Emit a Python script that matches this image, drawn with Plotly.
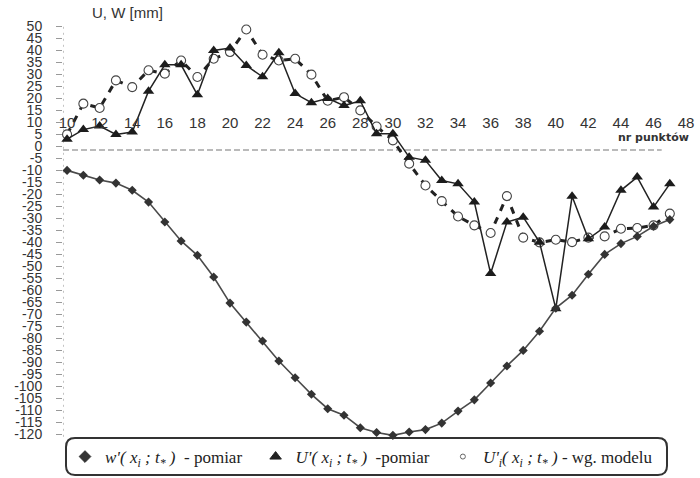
import plotly.graph_objects as go

# ---- data ----
points = list(range(10, 48))
w_measured = [-10, -12, -14, -15.3, -18.3, -23.2, -31.5, -39.4, -45.4, -54.4,
              -65.3, -73.2, -81.1, -89.4, -96.4, -103.3, -109.3, -112, -117.2, -119.2,
              -120.4, -119, -118, -115.3, -110.3, -105.6, -98.6, -91.5, -85, -77,
              -67.4, -62, -53.3, -45, -40.5, -37.5, -33.3, -30.5]
u_measured = [3, 7, 8.5, 5, 6, 23, 34, 34, 21.5, 40,
              41, 33.7, 29, 39, 22, 18.2, 20, 17, 19, 5.3,
              5.3, -4.5, -5.8, -14.2, -15.6, -23.2, -53, -31.5, -29.5, -39.9,
              -67.6, -20.8, -38.5, -33.6, -18.3, -12.8, -25.3, -15.6]
u_model = [5, 17.8, 16, 27.5, 24.7, 31.7, 30.3, 35.8, 28.9, 36.5,
           39.3, 48.7, 38.2, 35.8, 36.5, 29.9, 19, 20.5, 15, 8.3,
           2.5, -7.2, -16.3, -22.8, -29.2, -32.9, -36.1, -20.7, -38, -40,
           -38.9, -39.9, -38, -37.5, -34.3, -34, -32.9, -28]
x_ticks = list(range(10, 49, 2))
y_ticks = list(range(-120, 51, 5))

legend_names = ["<i>w'( x<sub>i</sub> ; t<sub>*</sub> )</i>  - pomiar&nbsp;&nbsp;",
                "<i>U'( x<sub>i</sub> ; t<sub>*</sub> )</i>  -pomiar&nbsp;&nbsp;",
                "<i>U'<sub>i</sub>( x<sub>i</sub> ; t<sub>*</sub> )</i> - wg. modelu"]

# ---- geometry ----
W, H = 700, 478
ML, MR, MT, MB = 63, 9, 22, 40
XR = [9.75, 48.3]
YR = [-121.5, 51.83]
AXIS_Y = -1.5
PW, PH = W - ML - MR, H - MT - MB


def px2paper(px, py):
    return (px - ML) / PW, (H - MB - py) / PH


fig = go.Figure()

# model (dashed, open circles)
fig.add_trace(go.Scatter(
    x=points, y=u_model, mode="lines+markers", showlegend=False,
    line=dict(color="#222", width=3, dash="7px,7px"),
    marker=dict(symbol="circle", size=9, color="white",
                line=dict(color="#444", width=1.1)),
    cliponaxis=False))
# U measured (triangles)
fig.add_trace(go.Scatter(
    x=points, y=u_measured, mode="lines+markers", showlegend=False,
    line=dict(color="#222", width=1.5),
    marker=dict(symbol="triangle-up", size=10, color="#1c1c1c"),
    cliponaxis=False))
# w measured (diamonds)
fig.add_trace(go.Scatter(
    x=points, y=w_measured, mode="lines+markers", showlegend=False,
    line=dict(color="#4a4a4a", width=1.6),
    marker=dict(symbol="diamond", size=7, color="#333"),
    cliponaxis=False))

# legend-only entries (markers only, like the reference)
for name, sym, size, col, fill in [
        (legend_names[0], "diamond", 9, "#333", "#333"),
        (legend_names[1], "triangle-up", 10, "#222", "#222"),
        (legend_names[2], "circle-open", 5, "#666", "#666")]:
    fig.add_trace(go.Scatter(x=[None], y=[None], mode="markers", name=name,
                             marker=dict(symbol=sym, size=size, color=fill,
                                         line=dict(color=col, width=1))))

# axis arrows
fig.add_trace(go.Scatter(x=[XR[0]], y=[52.7], mode="markers", showlegend=False,
                         marker=dict(symbol="triangle-up", size=17, color="#1a1a1a"),
                         cliponaxis=False, hoverinfo="skip"))
fig.add_trace(go.Scatter(x=[48.55], y=[-2.5], mode="markers", showlegend=False,
                         marker=dict(symbol="triangle-right", size=13, color="#1a1a1a"),
                         cliponaxis=False, hoverinfo="skip"))

shapes = [
    dict(type="line", xref="x", yref="y", x0=XR[0], x1=46.5, y0=AXIS_Y, y1=AXIS_Y,
         line=dict(color="#777", width=1.2, dash="6px,3px"), layer="below"),
    dict(type="line", xref="x", yref="y", x0=XR[0], x1=XR[0], y0=-121, y1=50,
         line=dict(color="#888", width=1, dash="2px,4px"), layer="below"),
]

# rounded legend box
bx0, by0, bx1, by1, r = 66, 438, 667, 475, 9
p = lambda a, b: "%.5f %.5f" % px2paper(a, b)
path = ("M " + p(bx0 + r, by0) + " L " + p(bx1 - r, by0) + " Q " + p(bx1, by0) + " " + p(bx1, by0 + r) +
        " L " + p(bx1, by1 - r) + " Q " + p(bx1, by1) + " " + p(bx1 - r, by1) +
        " L " + p(bx0 + r, by1) + " Q " + p(bx0, by1) + " " + p(bx0, by1 - r) +
        " L " + p(bx0, by0 + r) + " Q " + p(bx0, by0) + " " + p(bx0 + r, by0) + " Z")
shapes.append(dict(type="path", xref="paper", yref="paper", path=path,
                   line=dict(color="#333", width=2)))

tx, ty = px2paper(90, 13)
nx, ny = px2paper(691, 137)
annotations = [
    dict(text="U, W [mm]", x=tx, y=ty, xref="paper", yref="paper", showarrow=False,
         xanchor="left", yanchor="middle",
         font=dict(family="Liberation Sans, Arial", size=15, color="#333")),
    dict(text="<b>nr punktów</b>", x=nx, y=ny, xref="paper", yref="paper", showarrow=False,
         xanchor="right", yanchor="middle",
         font=dict(family="DejaVu Sans, Liberation Sans", size=11, color="#333")),
]

fig.update_layout(
    width=W, height=H, paper_bgcolor="white", plot_bgcolor="white",
    margin=dict(l=ML, r=MR, t=MT, b=MB, autoexpand=False),
    showlegend=True,
    legend=dict(orientation="h", xref="container", yref="container",
                x=65 / W, y=1 - 439 / H, xanchor="left", yanchor="top",
                font=dict(family="Liberation Serif, Times New Roman", size=17, color="#222"),
                bgcolor="rgba(0,0,0,0)", itemwidth=30, tracegroupgap=0),
    xaxis=dict(range=XR, tickvals=x_ticks, ticktext=[str(v) for v in x_ticks],
               showgrid=False, zeroline=False, showline=False, ticks="",
               anchor="free", position=(AXIS_Y - YR[0]) / (YR[1] - YR[0]), side="top",
               ticklabelstandoff=19, automargin=False,
               tickfont=dict(family="Liberation Sans, Arial", size=15, color="#333")),
    yaxis=dict(range=YR, tickvals=y_ticks, ticktext=[str(v) for v in y_ticks],
               showgrid=False, zeroline=False, showline=False,
               ticks="outside", ticklen=6, tickcolor="#999", tickwidth=1,
               ticklabelstandoff=11, automargin=False,
               tickfont=dict(family="Liberation Sans Narrow, Arial Narrow, Liberation Sans",
                             size=14, color="#333")),
    shapes=shapes, annotations=annotations,
)

fig.write_html("out.html", config={"displayModeBar": False},
               post_script="document.body.style.margin='0';document.body.style.overflow='hidden';")
